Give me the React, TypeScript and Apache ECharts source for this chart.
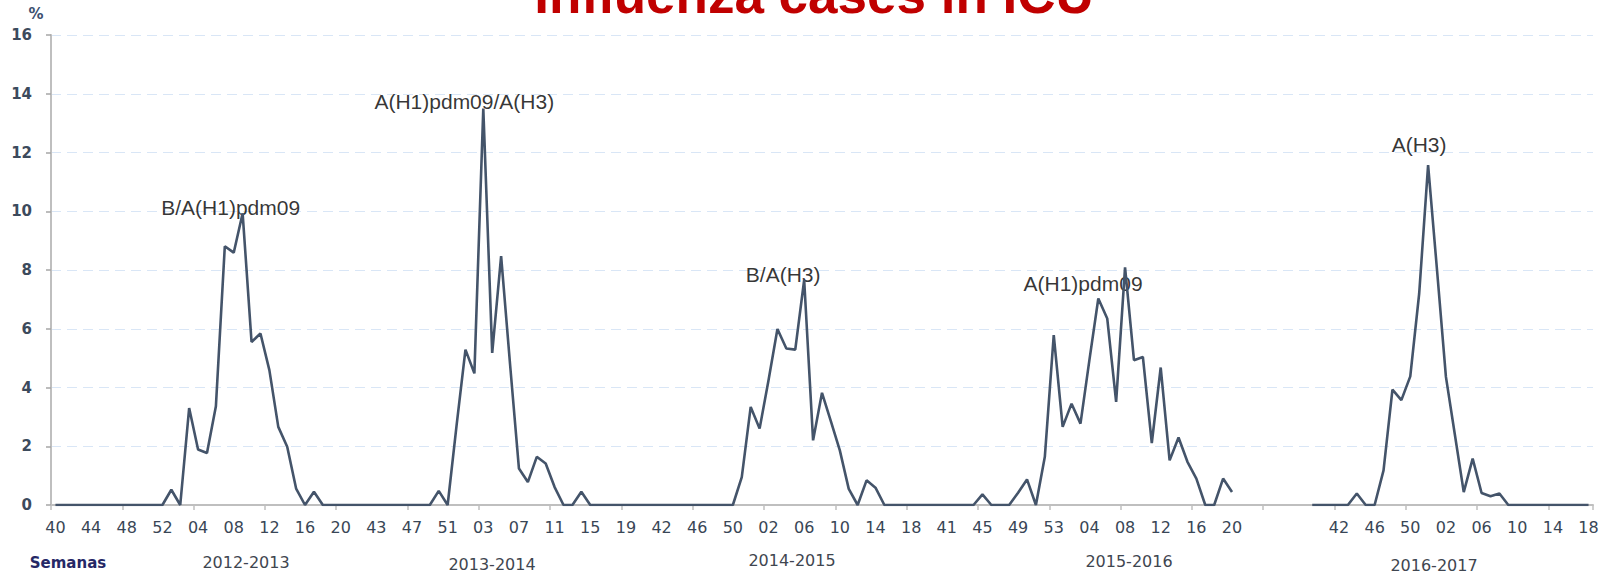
import React, { useEffect, useRef } from "react";
import * as echarts from "echarts";

// ---- Categories (epidemiological weeks), by season ----
const weeks2012: string[] = ["40","41","42","43","44","45","46","47","48","49","50","51","52","01","02","03","04","05","06","07","08","09","10","11","12","13","14","15","16","17","18","19","20"];
const weeks2013: string[] = ["40","41","42","43","44","45","46","47","48","49","50","51","52","01","02","03","04","05","06","07","08","09","10","11","12","13","14","15","16","17","18","19","20"];
const weeks2014: string[] = ["40","41","42","43","44","45","46","47","48","49","50","51","52","01","02","03","04","05","06","07","08","09","10","11","12","13","14","15","16","17","18","19","20"];
const weeks2015: string[] = ["40","41","42","43","44","45","46","47","48","49","50","51","52","53","01","02","03","04","05","06","07","08","09","10","11","12","13","14","15","16","17","18","19","20"];
const weeksGap: string[] = ["","","","","","","",""];
const weeks2016: string[] = ["39","40","41","42","43","44","45","46","47","48","49","50","51","52","01","02","03","04","05","06","07","08","09","10","11","12","13","14","15","16","17","18"];

// ---- Values (% influenza cases in ICU) ----
const values2012: number[] = [0,0,0,0,0,0,0,0,0,0,0,0,0,0.52,0,3.3,1.89,1.77,3.36,8.81,8.59,9.93,5.55,5.84,4.59,2.66,1.98,0.56,0,0.45,0,0,0];
const values2013: number[] = [0,0,0,0,0,0,0,0,0,0,0.48,0,2.7,5.29,4.48,13.5,5.18,8.47,4.8,1.24,0.78,1.64,1.41,0.61,0,0,0.45,0,0,0,0,0,0];
const values2014: number[] = [0,0,0,0,0,0,0,0,0,0,0,0.95,3.34,2.6,4.25,5.99,5.33,5.29,7.66,2.2,3.82,2.85,1.86,0.55,0,0.84,0.59,0,0,0,0,0,0];
const values2015: number[] = [0,0,0,0,0,0.36,0,0,0,0.42,0.87,0,1.64,5.78,2.66,3.45,2.77,4.93,7.03,6.35,3.51,8.09,4.93,5.04,2.11,4.68,1.52,2.3,1.47,0.9,0,0,0.9,0.44];
const valuesGap: (number | null)[] = [null,null,null,null,null,null,null,null];
const values2016: number[] = [0,0,0,0,0,0.39,0,0,1.18,3.93,3.57,4.38,7.2,11.57,8.0,4.36,2.4,0.44,1.58,0.41,0.3,0.39,0,0,0,0,0,0,0,0,0,0];

const seasons: string[] = ["2012-2013","2013-2014","2014-2015","2015-2016","2016-2017"];
const peakLabels: string[] = ["B/A(H1)pdm09","A(H1)pdm09/A(H3)","B/A(H3)","A(H1)pdm09","A(H3)"];
const yTicks: number[] = [0, 2, 4, 6, 8, 10, 12, 14, 16];

export default function App() {
  const ref = useRef<HTMLDivElement>(null);

  useEffect(() => {
    if (!ref.current) return;
    const chart = echarts.init(ref.current, null, { renderer: "svg" });

    const categories = [...weeks2012, ...weeks2013, ...weeks2014, ...weeks2015, ...weeksGap, ...weeks2016];
    const values = [...values2012, ...values2013, ...values2014, ...values2015, ...valuesGap, ...values2016];

    // peak of each season -> annotation anchor
    const seasonArrays = [values2012, values2013, values2014, values2015, values2016];
    const seasonStarts = [0, values2012.length, values2012.length + values2013.length,
      values2012.length + values2013.length + values2014.length,
      values2012.length + values2013.length + values2014.length + values2015.length + valuesGap.length];
    const labelOffsets: number[][] = [[-12, -6], [-19, -7], [-21, -5], [-42, 16], [-9, -21]];
    const annotations = seasonArrays.map((arr, s) => {
      let best = 0;
      arr.forEach((v, i) => { if (v > arr[best]) best = i; });
      return {
        value: [seasonStarts[s] + best, arr[best]],
        label: { show: true, position: "inside", formatter: peakLabels[s], offset: labelOffsets[s] },
      };
    });

    const seasonPos: number[][] = [[246, 562], [492, 564], [792, 560], [1129, 561], [1434, 565]];

    chart.setOption({
      animation: false,
      backgroundColor: "#ffffff",
      grid: { left: 51, right: 13, top: 35, bottom: 70, containLabel: false },
      xAxis: {
        type: "category",
        data: categories,
        boundaryGap: true,
        axisLine: { show: true, lineStyle: { color: "#bfbfbf", width: 2 } },
        axisTick: { show: true, interval: 7, length: 5, lineStyle: { color: "#bfbfbf", width: 1.5 } },
        axisLabel: {
          interval: 3,
          margin: 14,
          color: "#394656",
          fontFamily: "DejaVu Sans",
          fontSize: 16,
        },
        splitLine: { show: false },
      },
      yAxis: {
        type: "value",
        min: yTicks[0],
        max: yTicks[yTicks.length - 1],
        interval: 2,
        axisLine: { show: true, lineStyle: { color: "#bfbfbf", width: 2 } },
        axisTick: { show: true, length: 5, lineStyle: { color: "#a6a6a6", width: 1.5 } },
        axisLabel: {
          margin: 19,
          color: "#3c4a5c",
          fontFamily: "DejaVu Sans",
          fontWeight: "bold",
          fontSize: 15,
        },
        splitLine: { show: true, lineStyle: { color: "#d9e6f6", width: 1.2, type: [10, 6] } },
      },
      series: [
        {
          type: "line",
          data: values,
          showSymbol: false,
          symbol: "none",
          connectNulls: false,
          lineStyle: { color: "#44546a", width: 2.6 },
          silent: true,
        },
        {
          type: "scatter",
          data: annotations,
          symbolSize: 0,
          silent: true,
          label: {
            show: true,
            color: "#000000",
            fontFamily: "Liberation Sans, Arial, sans-serif",
            fontSize: 21,
          },
        },
      ],
      graphic: [
        {
          type: "text",
          x: 814,
          y: -6,
          style: {
            text: "Influenza cases in ICU",
            fill: "#c00000",
            font: "bold 53px 'Liberation Sans', Arial, sans-serif",
            textAlign: "center",
            textVerticalAlign: "middle",
          },
        },
        {
          type: "text",
          x: 36,
          y: 14,
          style: {
            text: "%",
            fill: "#3c5070",
            font: "bold 15px 'DejaVu Sans'",
            textAlign: "center",
            textVerticalAlign: "middle",
          },
        },
        {
          type: "text",
          x: 68,
          y: 563,
          style: {
            text: "Semanas",
            fill: "#252866",
            font: "bold 15px 'DejaVu Sans'",
            textAlign: "center",
            textVerticalAlign: "middle",
          },
        },
        ...seasons.map((s, i) => ({
          type: "text",
          x: seasonPos[i][0],
          y: seasonPos[i][1],
          style: {
            text: s,
            fill: "#3f4650",
            font: "16px 'DejaVu Sans'",
            textAlign: "center",
            textVerticalAlign: "middle",
          },
        })),
      ],
    });

    return () => chart.dispose();
  }, []);

  return (
    <div
      ref={ref}
      style={{ position: "fixed", left: 0, top: 0, width: 1606, height: 575, background: "#fff" }}
    />
  );
}
